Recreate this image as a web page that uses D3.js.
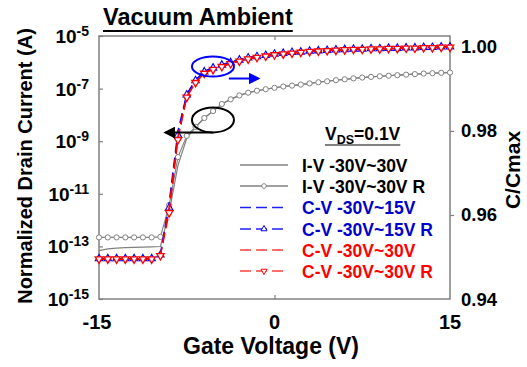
<!DOCTYPE html>
<html><head><meta charset="utf-8">
<script src="https://cdn.jsdelivr.net/npm/d3@7/dist/d3.min.js"></script>
<style>
html,body{margin:0;padding:0;background:#fff;}
svg{display:block;font-family:"Liberation Sans",Arial,sans-serif;font-weight:bold;}
</style></head>
<body>
<svg id="c" width="527" height="367"></svg>
<script>
// ---------------- data ----------------
const gateV = [-15,-14.25,-13.5,-12.75,-12,-11.25,-10.5,-9.75,-9,-8.25,-7.5,-6.75,-6,-5.25,-4.5,-3.75,-3,-2.25,-1.5,-0.75,0,0.75,1.5,2.25,3,3.75,4.5,5.25,6,6.75,7.5,8.25,9,9.75,10.5,11.25,12,12.75,13.5,14.25,15];

// I-V (left axis, A)
const ivFwd = [6.9e-14,8.0e-14,8.6e-14,9.0e-14,9.2e-14,9.4e-14,9.6e-14,9.9e-14,2.0e-12,1.2e-10,1.3e-9,3.4e-9,7.6e-9,1.4e-8,2.6e-8,3.9e-8,5.5e-8,7.0e-8,8.3e-8,9.5e-8,1.07e-7,1.2e-7,1.3e-7,1.42e-7,1.58e-7,1.74e-7,1.9e-7,2.09e-7,2.26e-7,2.45e-7,2.63e-7,2.79e-7,2.95e-7,3.09e-7,3.24e-7,3.39e-7,3.55e-7,3.72e-7,3.85e-7,3.98e-7,4.07e-7];
const ivRev = [2.2e-13,2.2e-13,2.2e-13,2.2e-13,2.2e-13,2.2e-13,2.2e-13,2.3e-13,3.7e-12,2.5e-10,1.6e-9,3.5e-9,7.6e-9,1.4e-8,2.6e-8,3.9e-8,5.5e-8,7.0e-8,8.3e-8,9.5e-8,1.07e-7,1.2e-7,1.3e-7,1.42e-7,1.58e-7,1.74e-7,1.9e-7,2.09e-7,2.26e-7,2.45e-7,2.63e-7,2.79e-7,2.95e-7,3.09e-7,3.24e-7,3.39e-7,3.55e-7,3.72e-7,3.85e-7,3.98e-7,4.07e-7];

// C-V (right axis, C/Cmax)
const cv15Fwd = [0.9496,0.9496,0.9496,0.9496,0.9496,0.9496,0.9497,0.9507,0.9630,0.9800,0.9888,0.9921,0.9942,0.9951,0.9958,0.9964,0.9970,0.9975,0.9978,0.9981,0.9983,0.9985,0.9987,0.9988,0.9990,0.9991,0.9992,0.9993,0.9994,0.9995,0.9995,0.9996,0.9996,0.9997,0.9997,0.9998,0.9998,0.9999,0.9999,1.0000,1.0000];
const cv15Rev = [0.9496,0.9496,0.9496,0.9496,0.9496,0.9496,0.9496,0.9505,0.9617,0.9790,0.9886,0.9920,0.9941,0.9950,0.9957,0.9963,0.9969,0.9974,0.9977,0.9980,0.9983,0.9985,0.9987,0.9988,0.9990,0.9991,0.9992,0.9993,0.9994,0.9995,0.9995,0.9996,0.9996,0.9997,0.9997,0.9998,0.9998,0.9999,0.9999,1.0000,1.0000];
const cv30Fwd = [0.9495,0.9495,0.9495,0.9495,0.9495,0.9495,0.9496,0.9504,0.9620,0.9788,0.9882,0.9916,0.9938,0.9947,0.9954,0.9961,0.9967,0.9972,0.9976,0.9979,0.9981,0.9983,0.9985,0.9987,0.9989,0.9990,0.9991,0.9992,0.9993,0.9994,0.9994,0.9995,0.9995,0.9996,0.9996,0.9997,0.9997,0.9998,0.9998,0.9999,0.9999];
const cv30Rev = [0.9495,0.9495,0.9495,0.9495,0.9495,0.9495,0.9495,0.9503,0.9605,0.9779,0.9880,0.9915,0.9937,0.9946,0.9953,0.9960,0.9966,0.9971,0.9975,0.9978,0.9981,0.9983,0.9985,0.9987,0.9989,0.9990,0.9991,0.9992,0.9993,0.9994,0.9994,0.9995,0.9995,0.9996,0.9996,0.9997,0.9997,0.9998,0.9998,0.9999,0.9999];

const xTicks = [-15, 0, 15];
const xTickLabels = ["-15", "0", "15"];
const leftTicks = [1e-5, 1e-7, 1e-9, 1e-11, 1e-13, 1e-15];
const leftTickExp = ["-5", "-7", "-9", "-11", "-13", "-15"];
const rightTicks = [0.94, 0.96, 0.98, 1.00];
const rightTickLabels = ["0.94", "0.96", "0.98", "1.00"];
const legendLabels = ["I-V -30V~30V", "I-V -30V~30V R", "C-V -30V~15V", "C-V -30V~15V R", "C-V -30V~30V", "C-V -30V~30V R"];

// ---------------- layout ----------------
const L = 99, R = 450, T = 36, B = 299;
const svg = d3.select("#c");
const x = d3.scaleLinear().domain([-15, 15]).range([L, R]);
const yL = d3.scaleLog().domain([1e-15, 1e-5]).range([B, T]);
const yR = d3.scaleLinear().domain([0.94, 1.0026]).range([B, T]);

const GRAY = "#808080", BLUE = "#0000ff", RED = "#ff0000";

// frame
svg.append("rect").attr("x", L).attr("y", T).attr("width", R - L).attr("height", B - T)
  .attr("fill", "none").attr("stroke", GRAY).attr("stroke-width", 1.5);

// ticks via axes
function clean(g){ g.select(".domain").remove(); g.selectAll(".tick line").attr("stroke", GRAY).attr("stroke-width", 1.2); g.selectAll("text").remove(); }
svg.append("g").attr("transform", `translate(${L},0)`).call(d3.axisLeft(yL).tickValues(leftTicks).tickSize(-4)).call(clean);
svg.append("g").attr("transform", `translate(0,${B})`).call(d3.axisBottom(x).tickValues([0]).tickSize(-4)).call(clean);
svg.append("g").attr("transform", `translate(0,${T})`).call(d3.axisTop(x).tickValues([0]).tickSize(-4)).call(clean);
svg.append("g").attr("transform", `translate(${R},0)`).call(d3.axisRight(yR).tickValues([0.96, 0.98]).tickSize(4)).call(clean);

// left tick labels 10^n
leftTicks.forEach((v, i) => {
  const t = svg.append("text").attr("x", 89).attr("y", yL(v) + 7).attr("text-anchor", "end").attr("fill", "#000");
  t.append("tspan").attr("font-size", 19).text("10");
  t.append("tspan").attr("font-size", 14).attr("dy", -7).text(leftTickExp[i]);
});
// right tick labels
rightTicks.forEach((v, i) => {
  svg.append("text").attr("x", 461).attr("y", yR(v) + 6.5).attr("font-size", 18.5).attr("fill", "#000").text(rightTickLabels[i]);
});
// x tick labels
xTicks.forEach((v, i) => {
  svg.append("text").attr("x", x(v) - (v < 0 ? 2 : 0)).attr("y", 329).attr("text-anchor", "middle").attr("font-size", 20).attr("fill", "#000").text(xTickLabels[i]);
});

// axis titles
svg.append("text").attr("x", 271).attr("y", 354).attr("text-anchor", "middle").attr("font-size", 23).text("Gate Voltage (V)");
svg.append("text").attr("transform", "translate(32,166) rotate(-90)").attr("text-anchor", "middle").attr("font-size", 20).text("Normalized Drain Current (A)");
svg.append("text").attr("transform", "translate(520,170) rotate(-90)").attr("text-anchor", "middle").attr("font-size", 21).text("C/Cmax");

// title
const title = svg.append("text").attr("x", 103).attr("y", 25).attr("font-size", 23.5).text("Vacuum Ambient");
const tw = title.node().getComputedTextLength();
svg.append("line").attr("x1", 103).attr("x2", 103 + tw).attr("y1", 31).attr("y2", 31).attr("stroke", "#000").attr("stroke-width", 2);

// ---------------- series ----------------
const lineL = d3.line().x((d, i) => x(gateV[i])).y(d => yL(d));
const lineR = d3.line().x((d, i) => x(gateV[i])).y(d => yR(d));
const plot = svg.append("g");

// I-V fwd: solid gray
plot.append("path").attr("d", lineL(ivFwd)).attr("fill", "none").attr("stroke", GRAY).attr("stroke-width", 1.2);
// I-V rev: gray with circles
plot.append("path").attr("d", lineL(ivRev)).attr("fill", "none").attr("stroke", GRAY).attr("stroke-width", 1.1);
plot.selectAll(".ivc").data(ivRev).enter().append("circle")
  .attr("cx", (d, i) => x(gateV[i])).attr("cy", d => yL(d)).attr("r", 2.6)
  .attr("fill", "#fff").attr("stroke", GRAY).attr("stroke-width", 1);

const triUp = d3.symbol().type(d3.symbolTriangle).size(24)();
// C-V 15 fwd: blue dashed
plot.append("path").attr("d", lineR(cv15Fwd)).attr("fill", "none").attr("stroke", BLUE).attr("stroke-width", 1.4).attr("stroke-dasharray", "10,5");
// C-V 15 rev: blue dashed + up triangles
plot.append("path").attr("d", lineR(cv15Rev)).attr("fill", "none").attr("stroke", BLUE).attr("stroke-width", 1.2).attr("stroke-dasharray", "10,5");
plot.selectAll(".b").data(cv15Rev).enter().append("path").attr("d", triUp)
  .attr("transform", (d, i) => `translate(${x(gateV[i])},${yR(d)})`)
  .attr("fill", "#fff").attr("stroke", BLUE).attr("stroke-width", 1.1);
// C-V 30 fwd: red dashed
plot.append("path").attr("d", lineR(cv30Fwd)).attr("fill", "none").attr("stroke", RED).attr("stroke-width", 1.4).attr("stroke-dasharray", "10,5");
// C-V 30 rev: red dashed + down triangles
plot.append("path").attr("d", lineR(cv30Rev)).attr("fill", "none").attr("stroke", RED).attr("stroke-width", 1.2).attr("stroke-dasharray", "10,5");
plot.selectAll(".r").data(cv30Rev).enter().append("path").attr("d", triUp)
  .attr("transform", (d, i) => `translate(${x(gateV[i])},${yR(d)}) rotate(180)`)
  .attr("fill", "#fff").attr("stroke", RED).attr("stroke-width", 1.3);

// ---------------- annotations ----------------
svg.append("defs").html(
  '<marker id="ab" viewBox="0 0 10 10" refX="8" refY="5" markerWidth="6" markerHeight="6" orient="auto"><path d="M0,0L10,5L0,10z" fill="#0000ff"/></marker>' +
  '<marker id="ak" viewBox="0 0 10 10" refX="8" refY="5" markerWidth="6" markerHeight="6" orient="auto"><path d="M0,0L10,5L0,10z" fill="#000"/></marker>');
// blue ellipse (C-V -> right axis)
svg.append("ellipse").attr("cx", x(-5.26)).attr("cy", yR(0.99534)).attr("rx", 21).attr("ry", 10)
  .attr("fill", "none").attr("stroke", BLUE).attr("stroke-width", 2);
svg.append("line").attr("x1", x(-3.9)).attr("x2", x(-1.4)).attr("y1", yR(0.99248)).attr("y2", yR(0.99248))
  .attr("stroke", BLUE).attr("stroke-width", 2).attr("marker-end", "url(#ab)");
// black ellipse (I-V -> left axis)
svg.append("ellipse").attr("cx", x(-5.26)).attr("cy", yL(Math.pow(10, -8.19))).attr("rx", 21).attr("ry", 12.5)
  .attr("fill", "none").attr("stroke", "#000").attr("stroke-width", 2);
svg.append("line").attr("x1", x(-5.26)).attr("x2", x(-9.3)).attr("y1", yL(Math.pow(10, -8.67))).attr("y2", yL(Math.pow(10, -8.67)))
  .attr("stroke", "#000").attr("stroke-width", 2).attr("marker-end", "url(#ak)");

// ---------------- legend ----------------
const vds = svg.append("text").attr("x", 325).attr("y", 140).attr("font-size", 17.5);
vds.append("tspan").text("V");
vds.append("tspan").attr("font-size", 12.5).attr("dy", 4).text("DS");
vds.append("tspan").attr("dy", -4).text("=0.1V");
const vw = vds.node().getComputedTextLength();
svg.append("line").attr("x1", 325).attr("x2", 325 + vw).attr("y1", 145).attr("y2", 145).attr("stroke", GRAY).attr("stroke-width", 2);

const legRows = [165, 186, 207.5, 229, 250, 271];
const legStroke = [GRAY, GRAY, "#2020ff", "#2020ff", "#ff4040", "#ff4040"];
const legText = ["#000", "#000", "#0000cc", "#0000cc", RED, RED];
const legDash = ["none", "none", "11,5", "11,5", "11,5", "11,5"];
legendLabels.forEach((lab, i) => {
  const y = legRows[i];
  svg.append("line").attr("x1", 240).attr("x2", 288).attr("y1", y).attr("y2", y)
    .attr("stroke", legStroke[i]).attr("stroke-width", 1.4).attr("stroke-dasharray", legDash[i]);
  if (i === 1) svg.append("circle").attr("cx", 264).attr("cy", y).attr("r", 2.3).attr("fill", "#fff").attr("stroke", GRAY);
  if (i === 3) svg.append("path").attr("d", d3.symbol().type(d3.symbolTriangle).size(16)()).attr("transform", `translate(264,${y})`).attr("fill", "#fff").attr("stroke", BLUE);
  if (i === 5) svg.append("path").attr("d", d3.symbol().type(d3.symbolTriangle).size(16)()).attr("transform", `translate(264,${y}) rotate(180)`).attr("fill", "#fff").attr("stroke", RED);
  svg.append("text").attr("x", 302).attr("y", y + 6.5).attr("font-size", 17.5).attr("fill", legText[i]).text(lab);
});
</script>
</body></html>
